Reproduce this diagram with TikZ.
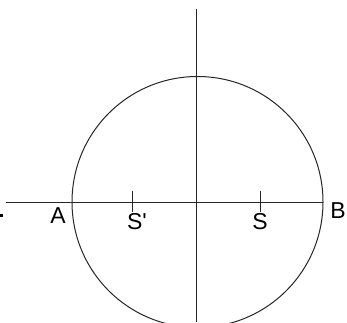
\documentclass[tikz,border=0pt]{standalone}
\usepackage{fontspec}
\setmainfont{Liberation Sans}
\begin{document}
\begin{tikzpicture}[x=1pt,y=-1pt,
  ln/.style={line width=1pt, draw=black!85},
  lbl/.style={font=\fontsize{23}{26}\selectfont, inner sep=0pt}]
\useasboundingbox (0,0) rectangle (347,322);
\coordinate (O) at (197.5,202);
\coordinate (hl) at (6,202);
\coordinate (hr) at (323,202);
\coordinate (vt) at (196,9);
\coordinate (vb) at (196,322);
\coordinate (s1t) at (132,191);
\coordinate (s1b) at (132,212);
\coordinate (s2t) at (260,191);
\coordinate (s2b) at (260,212);
\draw[ln] (O) circle[radius=125.5];
\draw[ln] (hl) -- (hr);
\draw[ln] (vt) -- (vb);
\draw[ln] (s1t) -- (s1b);
\draw[ln] (s2t) -- (s2b);
\fill[black] (0,213.5) rectangle (3,216.5);
\node[lbl] (A) at (58,216) {A};
\node[lbl] (Sp) at (137,222) {S\textquotesingle};
\node[lbl] (S) at (260,222) {S};
\node[lbl] (B) at (338,211) {B};
\end{tikzpicture}
\end{document}
